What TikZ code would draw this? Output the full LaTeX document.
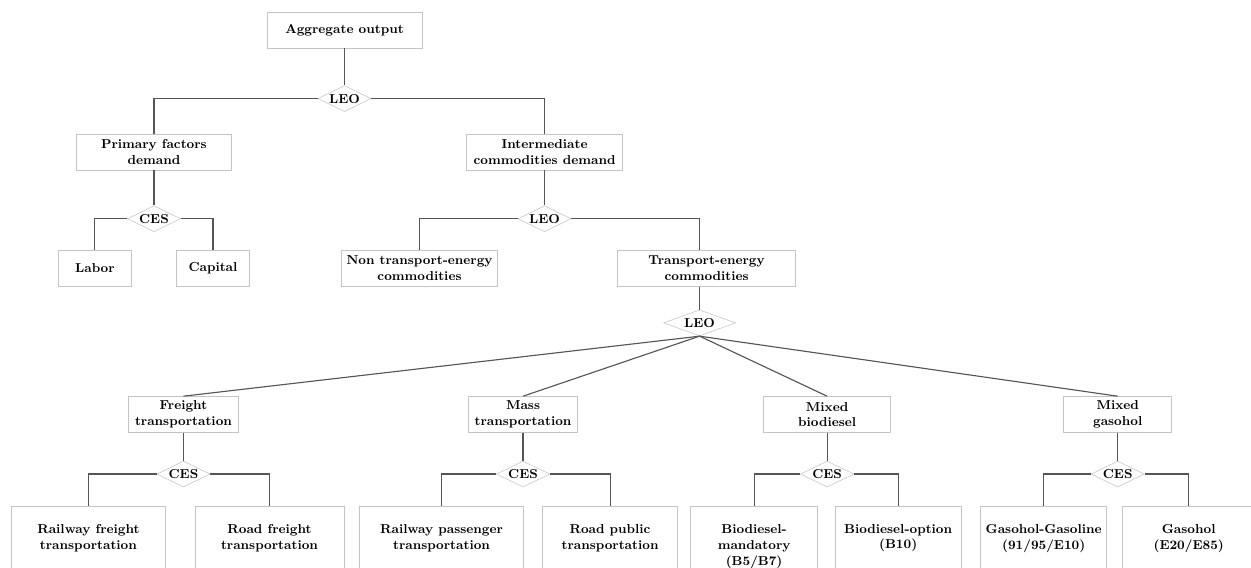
\documentclass[tikz,border=0pt]{standalone}
\usetikzlibrary{positioning, shapes.geometric}
\usepackage{xcolor}
\definecolor{boxline}{HTML}{C4C4C4}
\definecolor{wire}{HTML}{555555}

\begin{document}
\begin{tikzpicture}[x=0.025cm,y=-0.025cm,
    font=\fontsize{9.2}{11.2}\selectfont\bfseries,
    box/.style={draw=boxline,minimum height=0.9cm,inner sep=1pt,align=center},
    leaf/.style={box,minimum height=1.58cm},
    fork/.style={draw=boxline,diamond,aspect=2,inner sep=0pt,minimum width=1.33cm,minimum height=0.65cm},
    wire/.style={draw=wire,thick}]
    \clip (0,0) rectangle (1251,567);
    \node[box,minimum width=3.875cm](agg) at (344.5,30){Aggregate output};
    \node[fork,below=0.925cm of agg](leo1){LEO};
    \node[box,minimum width=3.875cm,below=0.55cm of leo1,xshift=-4.7625cm](prim){Primary factors\\demand};
    \node[box,minimum width=3.9cm,below=0.55cm of leo1,xshift=5cm](inter){Intermediate\\commodities demand};
    % primary factors
    \node[fork,below=0.875cm of prim](ces1){CES};
    \node[box,minimum width=1.825cm,below=0.45cm of ces1,xshift=-1.475cm](labor){Labor};
    \node[box,minimum width=1.825cm,below=0.45cm of ces1,xshift=1.475cm](capital){Capital};
    % intermediate commodities
    \node[fork,below=0.875cm of inter](leo2){LEO};
    \node[box,minimum width=3.9cm,below=0.45cm of leo2,xshift=-3.125cm](nontr){Non transport-energy\\commodities};
    \node[box,minimum width=4.45cm,below=0.45cm of leo2,xshift=4.05cm](trans){Transport-energy\\commodities};
    \node[fork,minimum width=1.8cm,below=0.575cm of trans,xshift=-0.175cm](leo3){LEO};
    % transport-energy nests
    \node[box,minimum width=2.75cm,below=1.5cm of leo3,xshift=-12.9cm](freight){Freight\\transportation};
    \node[box,minimum width=2.725cm,below=1.5cm of leo3,xshift=-4.4125cm](mass){Mass\\transportation};
    \node[box,minimum width=3.175cm,below=1.5cm of leo3,xshift=3.1875cm](mixbio){Mixed\\biodiesel};
    \node[box,minimum width=2.7cm,below=1.5cm of leo3,xshift=10.45cm](mixgas){Mixed\\gasohol};
    \node[fork,below=0.7cm of freight](ces2){CES};
    \node[fork,below=0.7cm of mass](ces3){CES};
    \node[fork,below=0.7cm of mixbio](ces4){CES};
    \node[fork,below=0.7cm of mixgas](ces5){CES};
    \node[leaf,minimum width=3.85cm,below=0.475cm of ces2,xshift=-2.375cm](railf){Railway freight\\transportation};
    \node[leaf,minimum width=3.725cm,below=0.475cm of ces2,xshift=2.15cm](roadf){Road freight\\transportation};
    \node[leaf,minimum width=4.1cm,below=0.475cm of ces3,xshift=-2.0375cm](railp){Railway passenger\\transportation};
    \node[leaf,minimum width=3.375cm,below=0.475cm of ces3,xshift=2.175cm](roadp){Road public\\transportation};
    \node[leaf,minimum width=3.175cm,minimum height=2.0cm,below=0.475cm of ces4,xshift=-1.825cm](biom){Biodiesel-\\mandatory\\(B5/B7)};
    \node[leaf,minimum width=3.15cm,below=0.475cm of ces4,xshift=1.775cm](bioo){Biodiesel-option\\(B10)};
    \node[leaf,minimum width=3.15cm,below=0.475cm of ces5,xshift=-1.85cm](gasg){Gasohol-Gasoline\\(91/95/E10)};
    \node[leaf,minimum width=3.3cm,below=0.475cm of ces5,xshift=1.775cm](gash){Gasohol\\(E20/E85)};
    % connectors
    \draw[wire](agg)--(leo1);
    \draw[wire](leo1.west)-|(prim.north);
    \draw[wire](leo1.east)-|(inter.north);
    \draw[wire](prim)--(ces1);
    \draw[wire](ces1.west)-|(labor.north);
    \draw[wire](ces1.east)-|(capital.north);
    \draw[wire](inter.south-|leo2)--(leo2);
    \draw[wire](leo2.west)-|(nontr.north);
    \draw[wire](leo2.east)-|(leo3|-trans.north);
    \draw[wire](leo3|-trans.south)--(leo3);
    \foreach \t in {freight,mass,mixbio,mixgas}
      \draw[wire](leo3.south)--(\t.north);
    \foreach \p/\a/\b in {freight/ces2/railf,mass/ces3/railp,mixbio/ces4/biom,mixgas/ces5/gasg}{
      \draw[wire](\p)--(\a);
      \draw[wire](\a.west)-|(\b.north);
    }
    \draw[wire](ces2.east)-|(roadf.north);
    \draw[wire](ces3.east)-|(roadp.north);
    \draw[wire](ces4.east)-|(bioo.north);
    \draw[wire](ces5.east)-|(gash.north);
\end{tikzpicture}
\end{document}
